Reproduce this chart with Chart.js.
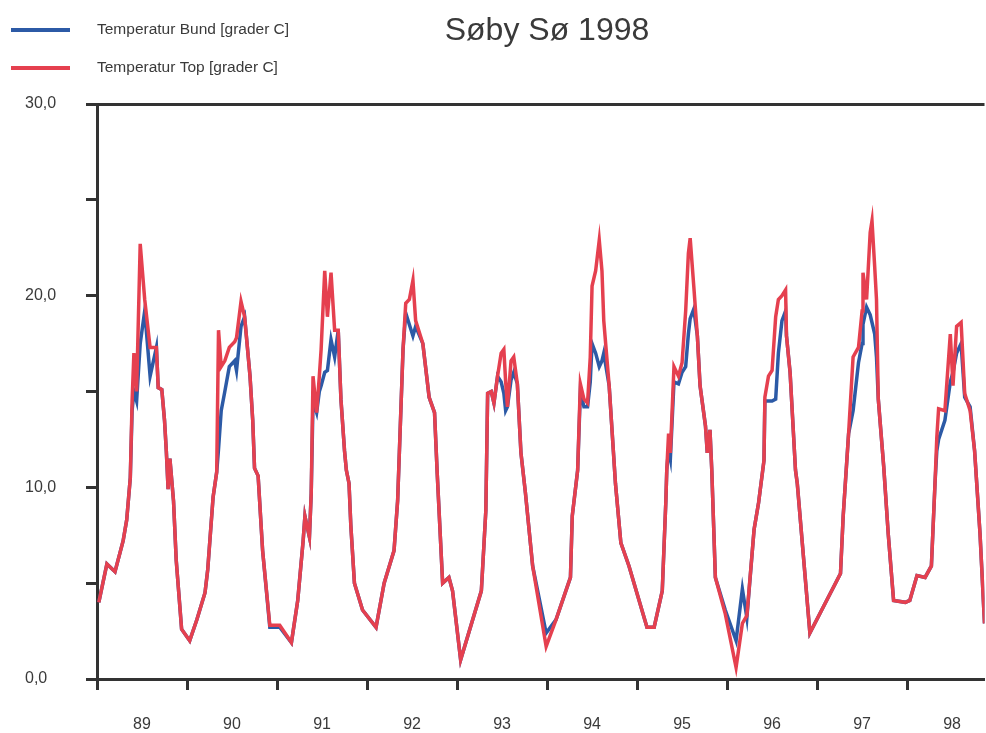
<!DOCTYPE html>
<html>
<head>
<meta charset="utf-8">
<title>Søby Sø 1998</title>
<script src="https://cdn.jsdelivr.net/npm/chart.js@4"></script>
<style>
  html, body { margin: 0; padding: 0; background: #fff; }
  #wrap { width: 986px; height: 733px; position: relative; }
</style>
</head>
<body>
<div id="wrap"><canvas id="temp"></canvas></div>
<script>
const chartTitle = 'Søby Sø 1998';
const seriesNames = ['Temperatur Bund [grader C]', 'Temperatur Top [grader C]'];
const yearLabels = ['89', '90', '91', '92', '93', '94', '95', '96', '97', '98'];
const yearStarts = [89, 90, 91, 92, 93, 94, 95, 96, 97, 98];

// decimal year of each measurement
const years = [
  89.02, 89.11, 89.20, 89.29, 89.33, 89.37, 89.39, 89.41, 89.44, 89.48,
  89.53, 89.59, 89.66, 89.68, 89.72, 89.75, 89.77, 89.79, 89.81, 89.85,
  89.88, 89.94, 90.03, 90.11, 90.20, 90.23, 90.29, 90.33, 90.35, 90.38,
  90.42, 90.47, 90.53, 90.55, 90.60, 90.64, 90.70, 90.73, 90.75, 90.79,
  90.84, 90.92, 91.03, 91.16, 91.23, 91.29, 91.31, 91.36, 91.38, 91.40,
  91.44, 91.47, 91.49, 91.53, 91.56, 91.60, 91.64, 91.68, 91.71, 91.75,
  91.77, 91.80, 91.82, 91.86, 91.95, 92.10, 92.19, 92.30, 92.34, 92.40,
  92.43, 92.47, 92.51, 92.54, 92.62, 92.69, 92.75, 92.78, 92.84, 92.91,
  92.95, 93.04, 93.27, 93.30, 93.32, 93.34, 93.38, 93.41, 93.45, 93.49,
  93.52, 93.54, 93.56, 93.60, 93.63, 93.67, 93.71, 93.76, 93.84, 93.99,
  94.10, 94.26, 94.28, 94.34, 94.37, 94.41, 94.45, 94.48, 94.50, 94.54,
  94.58, 94.61, 94.63, 94.69, 94.76, 94.82, 94.91, 95.11, 95.19, 95.28,
  95.32, 95.33, 95.35, 95.37, 95.41, 95.46, 95.50, 95.54, 95.57, 95.59,
  95.63, 95.67, 95.70, 95.76, 95.78, 95.81, 95.83, 95.87, 95.98, 96.10,
  96.17, 96.22, 96.30, 96.35, 96.41, 96.42, 96.46, 96.50, 96.54, 96.57,
  96.61, 96.65, 96.66, 96.70, 96.76, 96.78, 96.92, 97.26, 97.29, 97.35,
  97.40, 97.46, 97.50, 97.51, 97.55, 97.59, 97.61, 97.64, 97.66, 97.68,
  97.74, 97.79, 97.85, 97.98, 98.03, 98.11, 98.20, 98.27, 98.31, 98.33,
  98.35, 98.42, 98.48, 98.51, 98.55, 98.60, 98.64, 98.70, 98.75, 98.81,
  98.86
];

const bundTemp = [
  4.0, 6.0, 5.6, 7.2, 8.3, 10.5, 14.0, 15.0, 14.5, 17.5,
  19.2, 15.8, 17.3, 15.2, 15.1, 13.5, 11.9, 9.9, 11.5, 9.3,
  6.2, 2.6, 2.0, 3.1, 4.5, 5.7, 9.5, 10.8, 12.0, 14.0,
  15.0, 16.3, 16.6, 16.1, 18.4, 18.9, 15.8, 13.5, 11.0, 10.6,
  6.7, 2.7, 2.7, 1.9, 4.1, 7.2, 8.5, 7.4, 9.7, 14.5,
  13.9, 15.0, 15.3, 16.0, 16.1, 17.7, 16.8, 18.2, 14.6, 11.9,
  10.9, 10.2, 8.0, 5.0, 3.6, 2.7, 5.0, 6.7, 9.3, 17.2,
  19.1, 18.5, 17.9, 18.4, 17.5, 14.7, 13.9, 10.7, 5.0, 5.3,
  4.6, 1.0, 4.6, 7.1, 8.8, 14.9, 15.0, 14.4, 15.8, 15.5,
  14.9, 14.0, 14.2, 15.6, 16.0, 15.4, 11.8, 9.7, 5.9, 2.4,
  3.1, 5.3, 8.5, 10.9, 15.0, 14.2, 14.2, 15.5, 17.5, 17.0,
  16.3, 16.6, 17.0, 15.3, 10.2, 7.1, 5.9, 2.7, 2.7, 4.6,
  9.3, 10.9, 12.0, 11.5, 15.5, 15.4, 16.0, 16.3, 18.0, 18.8,
  19.3, 17.9, 15.3, 13.2, 11.8, 13.0, 10.9, 5.3, 3.6, 2.0,
  4.7, 3.2, 7.8, 9.2, 11.4, 14.5, 14.5, 14.5, 14.6, 17.0,
  18.7, 19.2, 17.9, 16.0, 10.9, 10.2, 2.4, 5.5, 8.5, 12.8,
  14.0, 16.5, 17.5, 18.5, 19.4, 19.0, 18.6, 18.0, 16.8, 14.6,
  11.1, 7.6, 4.1, 4.0, 4.1, 5.4, 5.3, 5.9, 10.2, 11.9,
  12.5, 13.5, 15.5, 16.0, 17.0, 17.5, 14.7, 14.2, 11.9, 7.6,
  2.9
];

const topTemp = [
  4.0, 6.0, 5.6, 7.2, 8.3, 10.5, 14.5, 17.0, 15.0, 22.7,
  19.8, 17.3, 17.3, 15.2, 15.1, 13.5, 11.9, 9.9, 11.5, 9.3,
  6.2, 2.6, 2.0, 3.1, 4.5, 5.7, 9.5, 10.8, 18.2, 16.3,
  16.6, 17.3, 17.6, 17.8, 19.7, 18.9, 15.8, 13.5, 11.0, 10.6,
  6.7, 2.8, 2.8, 1.9, 4.1, 7.2, 8.5, 7.4, 9.7, 15.8,
  13.9, 15.8, 17.2, 21.3, 18.9, 21.2, 18.2, 18.2, 14.6, 11.9,
  10.9, 10.2, 8.0, 5.0, 3.6, 2.7, 5.0, 6.7, 9.3, 17.2,
  19.6, 19.8, 20.8, 18.7, 17.5, 14.7, 13.9, 10.7, 5.0, 5.3,
  4.6, 1.0, 4.6, 7.1, 8.8, 14.9, 15.0, 14.4, 15.8, 17.0,
  17.2, 15.5, 14.2, 16.6, 16.8, 15.4, 11.8, 9.7, 5.9, 1.7,
  3.1, 5.3, 8.5, 10.9, 15.4, 14.6, 14.4, 16.8, 20.5, 21.3,
  22.9, 21.3, 18.7, 15.3, 10.2, 7.1, 5.9, 2.7, 2.7, 4.6,
  9.3, 10.9, 12.8, 11.8, 16.3, 15.8, 16.5, 19.2, 22.2, 23.0,
  20.5, 17.9, 15.3, 13.2, 11.8, 13.0, 10.9, 5.3, 3.4, 0.6,
  2.9, 3.3, 7.8, 9.2, 11.4, 14.7, 15.8, 16.1, 18.9, 19.8,
  20.0, 20.3, 17.9, 16.0, 10.9, 10.2, 2.4, 5.5, 8.5, 12.8,
  16.8, 17.3, 19.2, 21.2, 19.8, 23.3, 23.9, 21.5, 19.8, 14.6,
  11.1, 7.6, 4.1, 4.0, 4.1, 5.4, 5.3, 5.9, 10.2, 12.6,
  14.1, 14.0, 18.0, 15.3, 18.4, 18.6, 14.9, 14.0, 11.9, 7.6,
  2.9
];

const axisColor = '#333333';
const textColor = '#3a3a3a';
const blue = '#2c5aa6';
const red = '#e5404f';

function toPoints(values) {
  return years.map((yr, i) => ({ x: yr, y: values[i] }));
}

// title and legend in the top left, like the original
const headerPlugin = {
  id: 'header',
  afterDraw(chart) {
    const ctx = chart.ctx;
    ctx.save();
    ctx.fillStyle = textColor;
    ctx.font = '32px "Liberation Sans", Arial, sans-serif';
    ctx.textAlign = 'center';
    ctx.textBaseline = 'middle';
    ctx.fillText(chartTitle, 547, 31);

    ctx.font = '15.5px "Liberation Sans", Arial, sans-serif';
    ctx.textAlign = 'left';
    chart.data.datasets.forEach((ds, i) => {
      const y = 30 + i * 38;
      ctx.strokeStyle = ds.borderColor;
      ctx.lineWidth = 4;
      ctx.beginPath();
      ctx.moveTo(11, y);
      ctx.lineTo(70, y);
      ctx.stroke();
      ctx.fillStyle = textColor;
      ctx.fillText(ds.label, 97, y);
    });
    ctx.restore();
  }
};

const ctx = document.getElementById('temp').getContext('2d');

new Chart(ctx, {
  type: 'line',
  data: {
    datasets: [
      {
        label: seriesNames[0],
        data: toPoints(bundTemp),
        borderColor: blue,
        borderWidth: 3.5,
        pointRadius: 0,
        tension: 0,
        order: 1
      },
      {
        label: seriesNames[1],
        data: toPoints(topTemp),
        borderColor: red,
        borderWidth: 3.5,
        pointRadius: 0,
        tension: 0,
        order: 0
      }
    ]
  },
  options: {
    responsive: true,
    maintainAspectRatio: false,
    animation: false,
    layout: {
      padding: { top: 104, left: 25, right: 0, bottom: 0 }
    },
    plugins: {
      legend: { display: false },
      tooltip: { enabled: false }
    },
    scales: {
      x: {
        type: 'linear',
        min: 89,
        max: 98.86,
        border: { color: axisColor, width: 3 },
        grid: {
          drawOnChartArea: false,
          tickLength: 11,
          tickWidth: 3,
          tickColor: (c) => (c.tick && Number.isInteger(c.tick.value)) ? axisColor : 'rgba(0,0,0,0)'
        },
        afterBuildTicks: (scale) => {
          const ticks = [];
          yearStarts.forEach((y) => {
            ticks.push({ value: y });
            ticks.push({ value: y + 0.5 });
          });
          scale.ticks = ticks;
        },
        afterFit: (scale) => { scale.height = 54; },
        ticks: {
          autoSkip: false,
          maxRotation: 0,
          padding: 25,
          color: textColor,
          font: { family: '"Liberation Sans", Arial, sans-serif', size: 16 },
          callback: (value) => {
            if (Number.isInteger(value)) return '';
            return yearLabels[yearStarts.indexOf(Math.floor(value))];
          }
        }
      },
      y: {
        min: 0,
        max: 30,
        border: { color: axisColor, width: 3 },
        grid: {
          lineWidth: 3,
          tickLength: 11,
          tickWidth: 3,
          color: (c) => (c.tick && c.tick.value === 30) ? axisColor : 'rgba(0,0,0,0)',
          tickColor: axisColor
        },
        afterFit: (scale) => { scale.width = 72; },
        ticks: {
          stepSize: 5,
          crossAlign: 'far',
          color: textColor,
          font: { family: '"Liberation Sans", Arial, sans-serif', size: 16 },
          callback: (value) => (value % 10 === 0) ? value.toFixed(1).replace('.', ',') : ''
        }
      }
    }
  },
  plugins: [headerPlugin]
});
</script>
</body>
</html>
